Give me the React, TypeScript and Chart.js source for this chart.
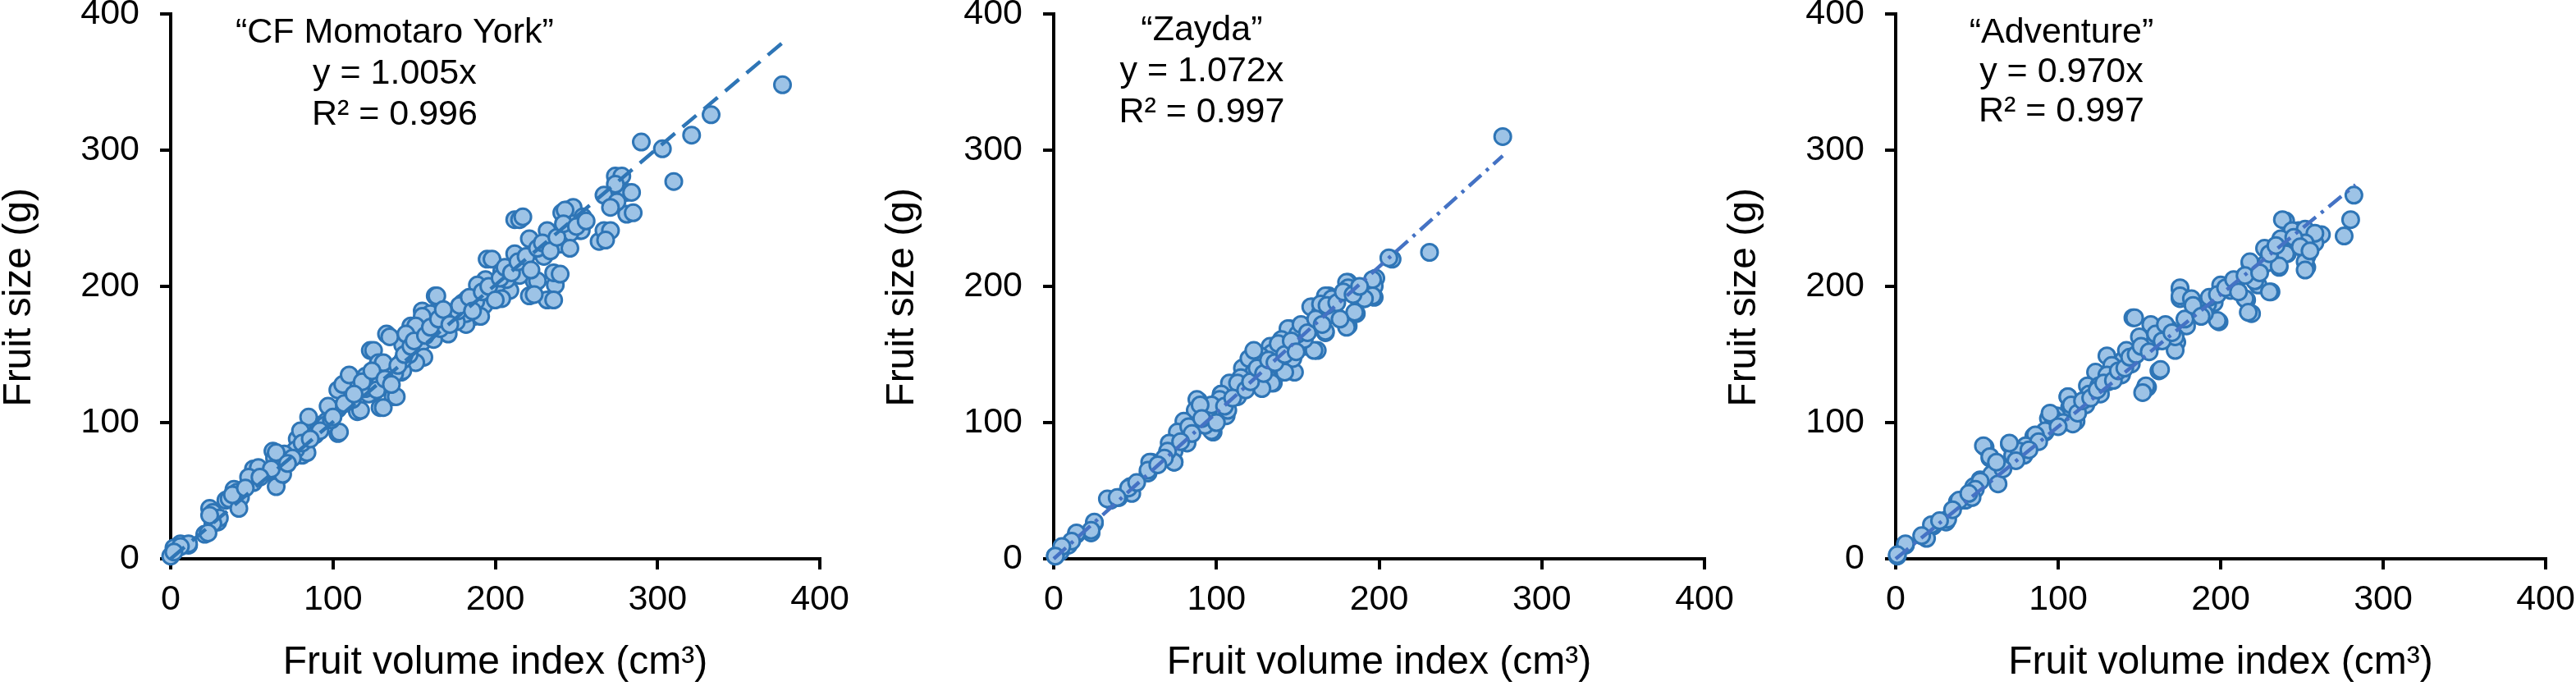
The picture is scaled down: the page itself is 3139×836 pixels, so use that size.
import { useEffect, useRef } from "react"
import { Chart, registerables } from "chart.js"

Chart.register(...registerables)

// ---- data (x = fruit volume index cm³, y = fruit size g) ----

const momotaroVolume = [
  377, 333, 321, 303, 290, 310, 274, 281, 281, 264, 267, 244, 241, 251, 252, 212, 215, 232, 237, 236,
  221, 224, 195, 163, 180, 187, 155, 148, 153, 133, 123, 142, 155, 137, 129, 115, 103, 103, 91, 96,
  78, 81, 68, 63, 64, 51, 58, 43, 34, 39, 29, 24, 26, 21, 11, 6, 2, 0,
  278, 274, 284, 267, 275, 271, 285, 271, 268, 248, 243, 254, 253, 246, 217, 232, 240, 221, 212, 230,
  218, 240, 226, 198, 204, 215, 224, 236, 209, 194, 189, 193, 183, 164, 182, 191, 182, 169, 160, 155,
  151, 171, 155, 143, 135, 125, 156, 151, 143, 134, 128, 120, 116, 106, 122, 131, 139, 117, 112, 103,
  97, 104, 95, 85, 80, 84, 77, 70, 65, 59, 65, 69, 54, 51, 41, 36, 42, 30, 26, 23, 11, 6, 2,
  110, 120, 129, 138, 131, 147, 162, 166, 176, 177, 188, 197, 201, 207, 189, 204, 143, 145, 81, 89,
  99, 75, 48, 38, 24,
  118, 124, 127, 132, 136, 140, 144, 148, 150, 157, 160, 165, 168, 172, 178, 184, 186, 192, 196, 200,
  203, 206, 210, 214, 219, 222, 226, 229, 234, 238, 242, 246, 250, 256, 92, 100, 107, 113, 86, 72,
  62, 55, 46,
]
const momotaroSize = [
  348, 326, 311, 301, 306, 277, 281, 269, 253, 233, 241, 256, 254, 250, 241, 249, 249, 190, 201, 210,
  193, 204, 220, 193, 188, 178, 182, 171, 166, 165, 153, 137, 148, 119, 111, 108, 124, 92, 98, 101,
  88, 76, 61, 79, 74, 66, 63, 45, 43, 51, 27, 37, 34, 18, 10, 11, 8, 2,
  281, 275, 269, 267, 262, 258, 254, 241, 234, 258, 256, 251, 241, 239, 251, 241, 231, 235, 224, 222,
  212, 209, 204, 220, 211, 208, 194, 190, 197, 205, 195, 186, 191, 193, 172, 178, 180, 176, 180, 178,
  171, 165, 159, 157, 163, 153, 148, 144, 138, 140, 144, 134, 127, 128, 121, 111, 119, 109, 117, 110,
  112, 93, 98, 104, 94, 78, 80, 77, 78, 64, 53, 62, 67, 56, 49, 44, 37, 30, 26, 19, 11, 9, 5,
  135, 125, 129, 136, 144, 150, 161, 169, 174, 182, 189, 195, 201, 205, 201, 191, 146, 165, 85, 91,
  102, 74, 60, 47, 32,
  130, 138, 124, 132, 128, 142, 150, 156, 160, 164, 170, 176, 183, 172, 186, 192, 182, 196, 200, 190,
  206, 214, 210, 218, 222, 212, 228, 232, 226, 236, 246, 228, 244, 248, 94, 104, 114, 121, 88, 70,
  66, 60, 52,
]

const zaydaVolume = [
  276, 231, 208, 198, 197, 197, 191, 181, 181, 186, 169, 172, 167, 159, 160, 150, 145, 154, 154, 162,
  138, 133, 140, 148, 135, 126, 121, 116, 116, 109, 113, 103, 101, 106, 99, 94, 89, 87, 84, 98,
  79, 82, 74, 74, 74, 60, 58, 47, 48, 40, 35, 25, 23, 14, 9, 4, 1,
  206, 196, 196, 180, 181, 185, 180, 191, 167, 158, 164, 172, 167, 160, 154, 144, 140, 147, 139, 134,
  127, 120, 123, 134, 128, 115, 108, 103, 102, 107, 97, 95, 88, 87, 80, 76, 71, 74, 70, 59,
  58, 46, 33, 39, 25, 23, 14, 11, 5, 1,
  113, 123, 130, 144, 150, 157, 164, 171, 142, 97, 83, 90,
  105, 110, 118, 121, 125, 129, 132, 136, 138, 142, 146, 149, 152, 156, 161, 165, 168, 174, 176, 178,
  184, 188, 93, 91, 100, 85, 78, 68, 64, 51,
]
const zaydaSize = [
  310, 225, 220, 206, 200, 192, 191, 203, 171, 180, 193, 183, 166, 185, 172, 169, 169, 163, 156, 153,
  153, 156, 140, 137, 129, 134, 146, 140, 130, 127, 119, 121, 111, 105, 105, 108, 116, 106, 101, 93,
  95, 85, 85, 79, 71, 71, 63, 53, 48, 45, 43, 26, 19, 18, 10, 5, 2,
  221, 205, 193, 203, 199, 181, 170, 191, 193, 185, 181, 179, 167, 153, 161, 169, 161, 147, 141, 151,
  149, 147, 137, 129, 125, 133, 129, 121, 117, 109, 94, 105, 117, 109, 101, 93, 85, 71, 79, 71,
  65, 52, 44, 45, 27, 21, 19, 13, 9, 2,
  129, 153, 141, 155, 165, 171, 187, 191, 137, 113, 97, 113,
  112, 118, 124, 130, 140, 136, 146, 144, 158, 150, 160, 152, 172, 166, 176, 172, 186, 188, 176, 196,
  194, 200, 98, 103, 100, 92, 86, 74, 69, 56,
]

const adventureVolume = [
  282, 280, 276, 240, 248, 262, 258, 240, 241, 253, 253, 236, 231, 219, 216, 228, 218, 223, 207, 199,
  196, 187, 187, 175, 175, 173, 172, 157, 153, 146, 162, 155, 153, 145, 140, 133, 131, 126, 123, 118,
  106, 107, 111, 99, 94, 92, 85, 79, 70, 72, 55, 58, 60, 52, 48, 43, 38, 31, 23, 19, 6, 1,
  238, 244, 252, 258, 252, 252, 252, 237, 240, 236, 227, 218, 221, 230, 215, 217, 206, 200, 198, 192,
  190, 175, 175, 182, 185, 179, 172, 168, 159, 163, 147, 150, 142, 130, 133, 139, 154, 152, 130, 125,
  119, 106, 108, 117, 97, 95, 103, 109, 92, 86, 80, 76, 74, 70, 54, 58, 59, 63, 52, 49,
  39, 47, 32, 22, 16, 6, 1,
  112, 115, 120, 124, 128, 134, 137, 141, 144, 148, 151, 156, 160, 164, 166, 170, 178, 183, 188, 193,
  198, 203, 208, 211, 215, 224, 230, 234, 245, 249, 255, 100, 88, 82, 66, 62, 45, 35, 27,
]
const adventureSize = [
  267, 249, 237, 248, 241, 238, 232, 235, 224, 222, 214, 214, 196, 180, 190, 217, 217, 201, 201, 174,
  188, 185, 179, 198, 191, 159, 153, 172, 159, 177, 138, 126, 124, 143, 146, 142, 130, 121, 137, 127,
  119, 111, 101, 105, 103, 93, 90, 76, 84, 76, 82, 74, 63, 58, 53, 43, 42, 27, 24, 15, 10, 2,
  249, 241, 242, 239, 232, 218, 212, 235, 224, 215, 228, 218, 204, 196, 191, 181, 197, 201, 175, 187,
  180, 199, 193, 191, 181, 171, 163, 169, 159, 139, 177, 163, 153, 149, 142, 135, 127, 122, 135, 127,
  121, 119, 113, 113, 103, 107, 100, 99, 94, 91, 83, 79, 72, 85, 83, 75, 62, 55, 57, 51,
  43, 45, 29, 25, 17, 11, 3,
  107, 116, 118, 124, 129, 131, 138, 140, 148, 150, 156, 152, 165, 160, 172, 166, 176, 186, 178, 192,
  194, 199, 205, 196, 208, 210, 224, 230, 236, 229, 226, 97, 86, 80, 66, 71, 48, 36, 28,
]

const axisTicks = [0, 100, 200, 300, 400]

// ---- look ----

const FONT = "Arial, 'Liberation Sans', Helvetica, sans-serif"
const MARKER_FILL = "#9dc3e6"
const MARKER_EDGE = "#2e75b6"
const AXIS_LEFT = 208
const AXIS_BOTTOM = 155
const HEIGHT = 836

interface Panel {
  title: string
  volume: number[]
  size: number[]
  slope: number
  r2: string
  trendEnd: number
  dash: number[]
  trendColor: string
  left: number
  width: number
  plotWidth: number
  labelX: number
  labelY: number
  lineGap: number
}

const panels: Panel[] = [
  {
    title: "\u201CCF Momotaro York\u201D", volume: momotaroVolume, size: momotaroSize,
    slope: 1.005, r2: "0.996", trendEnd: 378, dash: [22, 12], trendColor: "#2e75b6",
    left: 0, width: 1046, plotWidth: 791, labelX: 138, labelY: 386, lineGap: 50,
  },
  {
    title: "\u201CZayda\u201D", volume: zaydaVolume, size: zaydaSize,
    slope: 1.072, r2: "0.997", trendEnd: 276, dash: [20, 8, 4, 8], trendColor: "#4472c4",
    left: 1076, width: 1046, plotWidth: 793, labelX: 91, labelY: 388, lineGap: 50,
  },
  {
    title: "\u201CAdventure\u201D", volume: adventureVolume, size: adventureSize,
    slope: 0.97, r2: "0.997", trendEnd: 283, dash: [20, 8, 4, 8], trendColor: "#4472c4",
    left: 2102, width: 1037, plotWidth: 792, labelX: 102, labelY: 386, lineGap: 48,
  },
]

function ScatterPanel({ panel }: { panel: Panel }) {
  const canvasRef = useRef<HTMLCanvasElement>(null)

  useEffect(() => {
    if (!canvasRef.current) return

    const lines = [panel.title, `y = ${panel.slope.toFixed(3)}x`, `R\u00B2 = ${panel.r2}`]
    // cultivar name + regression equation in the upper left of the plot
    const equationLabel = {
      id: "equationLabel",
      afterDraw(chart: Chart) {
        const { ctx, scales } = chart
        const cx = scales.x.getPixelForValue(panel.labelX)
        const cy = scales.y.getPixelForValue(panel.labelY)
        ctx.save()
        ctx.font = `43px ${FONT}`
        ctx.fillStyle = "#000"
        ctx.textAlign = "center"
        ctx.textBaseline = "middle"
        lines.forEach((t, i) => ctx.fillText(t, cx, cy + i * panel.lineGap))
        ctx.restore()
      },
    }

    const tickFont = { size: 43, family: FONT }
    const titleFont = { size: 48, family: FONT, lineHeight: 1 }

    const chart = new Chart(canvasRef.current, {
      type: "scatter",
      data: {
        datasets: [
          {
            type: "line",
            data: [
              { x: 0, y: 0 },
              { x: panel.trendEnd, y: panel.slope * panel.trendEnd },
            ],
            borderColor: panel.trendColor,
            borderWidth: 4.5,
            borderDash: panel.dash,
            borderCapStyle: "butt",
            pointRadius: 0,
            fill: false,
            clip: false,
          },
          {
            data: panel.volume.map((x, i) => ({ x, y: panel.size[i] })),
            pointRadius: 10,
            pointBorderWidth: 3,
            pointBackgroundColor: MARKER_FILL,
            pointBorderColor: MARKER_EDGE,
            clip: false,
          },
        ],
      },
      options: {
        animation: false,
        responsive: false,
        events: [],
        layout: {
          padding: { top: 17, left: 0, bottom: 0, right: panel.width - AXIS_LEFT - panel.plotWidth },
        },
        plugins: {
          legend: { display: false },
          tooltip: { enabled: false },
        },
        scales: {
          x: {
            type: "linear",
            min: 0,
            max: 400,
            afterBuildTicks: (scale: any) => {
              scale.ticks = axisTicks.map((v) => ({ value: v }))
            },
            afterFit: (scale: any) => {
              scale.height = AXIS_BOTTOM
              scale.paddingLeft = 0
              scale.paddingRight = 0
            },
            ticks: { color: "#000", font: tickFont, padding: 11, maxRotation: 0, autoSkip: false },
            grid: { drawOnChartArea: false, drawTicks: true, tickLength: 13, color: "#000", lineWidth: 4 },
            border: { display: true, color: "#000", width: 4 },
            title: {
              display: true,
              text: "Fruit volume index (cm\u00B3)",
              color: "#000",
              font: titleFont,
              padding: { top: 0, bottom: 4 },
            },
          },
          y: {
            type: "linear",
            min: 0,
            max: 400,
            afterBuildTicks: (scale: any) => {
              scale.ticks = axisTicks.map((v) => ({ value: v }))
            },
            afterFit: (scale: any) => {
              scale.width = AXIS_LEFT
              scale.paddingTop = 0
              scale.paddingBottom = 0
            },
            ticks: { color: "#000", font: tickFont, padding: 25, autoSkip: false },
            grid: { drawOnChartArea: false, drawTicks: true, tickLength: 13, color: "#000", lineWidth: 4 },
            border: { display: true, color: "#000", width: 4 },
            title: {
              display: true,
              // trailing spaces nudge the rotated label a little below the axis centre, as in the original
              text: "Fruit size (g)  ",
              color: "#000",
              font: titleFont,
              padding: { top: 0, bottom: 0 },
            },
          },
        },
      },
      plugins: [equationLabel],
    } as any)

    return () => chart.destroy()
  }, [panel])

  return (
    <canvas
      ref={canvasRef}
      width={panel.width}
      height={HEIGHT}
      style={{ position: "absolute", left: panel.left, top: 0, width: panel.width, height: HEIGHT }}
    />
  )
}

export default function App() {
  return (
    <div
      style={{
        position: "fixed",
        left: 0,
        top: 0,
        width: 3139,
        height: HEIGHT,
        background: "#fff",
        overflow: "hidden",
      }}
    >
      {panels.map((p) => (
        <ScatterPanel key={p.title} panel={p} />
      ))}
    </div>
  )
}
